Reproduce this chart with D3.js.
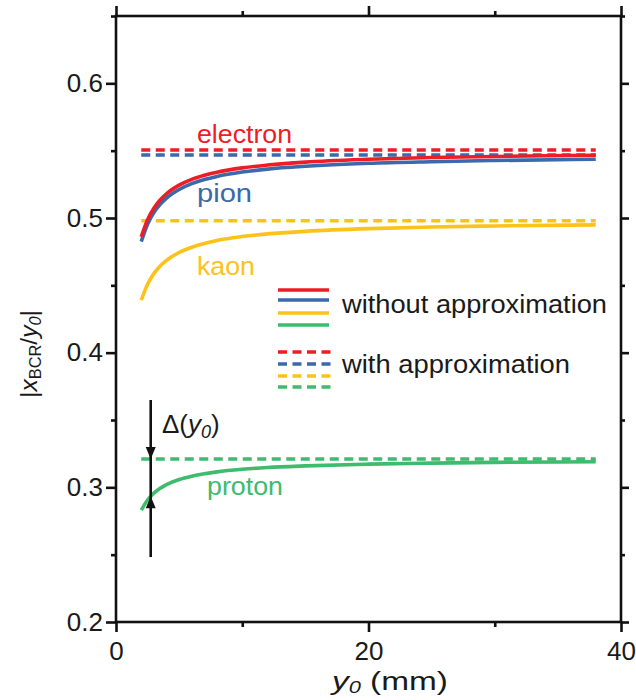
<!DOCTYPE html>
<html><head><meta charset="utf-8">
<script src="https://cdn.jsdelivr.net/npm/d3@7"></script>
<style>
body{margin:0;background:#fff;}
text{font-family:"Liberation Sans",Arial,Helvetica,sans-serif;}
</style></head>
<body>
<svg id="c" width="636" height="700"></svg>
<script>
// ---- data ----
const y0Values = [2, 2.5, 3, 3.5, 4, 5, 6, 7, 8, 10, 12, 15, 20, 25, 30, 38];
const electron = [0.486, 0.4988, 0.5073, 0.5134, 0.518, 0.5244, 0.5287, 0.5317, 0.534, 0.5372, 0.5393, 0.5415, 0.5436, 0.5449, 0.5457, 0.5466];
const pion     = [0.4825, 0.4954, 0.504, 0.5101, 0.5148, 0.5212, 0.5255, 0.5286, 0.5309, 0.5341, 0.5363, 0.5384, 0.5406, 0.5418, 0.5427, 0.5436];
const kaon     = [0.439, 0.4508, 0.4587, 0.4643, 0.4685, 0.4744, 0.4783, 0.4811, 0.4833, 0.4862, 0.4882, 0.4901, 0.4921, 0.4933, 0.4941, 0.4949];
const proton   = [0.283, 0.2906, 0.2957, 0.2993, 0.302, 0.3058, 0.3083, 0.3101, 0.3115, 0.3134, 0.3147, 0.3159, 0.3172, 0.318, 0.3185, 0.319];
const particles = ["electron", "pion", "kaon", "proton"];
const approxValues = [0.5505, 0.5468, 0.498, 0.321];
const approxRange = [2, 38];
const colors = ["#ee1c25", "#3b69ab", "#fbc319", "#3dbc6d"];
const xMajorTicks = [0, 20, 40];
const xMinorTicks = [10, 30];
const yMajorTicks = [0.2, 0.3, 0.4, 0.5, 0.6];
const yMinorTicks = [0.25, 0.35, 0.45, 0.55, 0.65];
const legendLabels = ["without approximation", "with approximation"];
const arrowX = 2.75;

// ---- layout ----
const svg = d3.select("#c");
const L = 116, R = 621, T = 16, B = 622;
const x = d3.scaleLinear().domain([0, 40]).range([L, R]);
const y = d3.scaleLinear().domain([0.2, 0.65]).range([B, T]);
const FS = 26;
const axisW = 2.6;

function styleAxis(g) {
  g.select(".domain").remove();
  g.selectAll("line").attr("stroke", "#111").attr("stroke-width", axisW);
  g.selectAll("text").attr("font-size", FS).attr("fill", "#1a1a1a")
    .attr("font-family", "Liberation Sans, Arial, sans-serif");
}
// left
svg.append("g").attr("transform", `translate(${L},0)`)
  .call(d3.axisLeft(y).tickValues(yMajorTicks).tickSize(10).tickPadding(3).tickFormat(d3.format(".1f"))).call(styleAxis);
svg.append("g").attr("transform", `translate(${L},0)`)
  .call(d3.axisLeft(y).tickValues(yMinorTicks).tickSize(5).tickFormat("")).call(styleAxis);
// right
svg.append("g").attr("transform", `translate(${R},0)`)
  .call(d3.axisRight(y).tickValues(yMajorTicks).tickSize(8).tickFormat("")).call(styleAxis);
svg.append("g").attr("transform", `translate(${R},0)`)
  .call(d3.axisRight(y).tickValues(yMinorTicks).tickSize(4).tickFormat("")).call(styleAxis);
// bottom
svg.append("g").attr("transform", `translate(0,${B})`)
  .call(d3.axisBottom(x).tickValues(xMajorTicks).tickSize(10).tickPadding(10)).call(styleAxis);
svg.append("g").attr("transform", `translate(0,${B})`)
  .call(d3.axisBottom(x).tickValues(xMinorTicks).tickSize(5).tickFormat("")).call(styleAxis);
// top
svg.append("g").attr("transform", `translate(0,${T})`)
  .call(d3.axisTop(x).tickValues(xMajorTicks).tickSize(10).tickFormat("")).call(styleAxis);
svg.append("g").attr("transform", `translate(0,${T})`)
  .call(d3.axisTop(x).tickValues(xMinorTicks).tickSize(5).tickFormat("")).call(styleAxis);
// frame
svg.append("rect").attr("x", L).attr("y", T).attr("width", R - L).attr("height", B - T)
  .attr("fill", "none").attr("stroke", "#111").attr("stroke-width", axisW);

// ---- lines ----
const seriesData = [electron, pion, kaon, proton];
const line = d3.line().x(d => x(d[0])).y(d => y(d[1])).curve(d3.curveMonotoneX);
const LW = 3.6;
const DASH = "9,5.5";
approxValues.forEach((v, i) => {
  svg.append("path")
    .attr("d", line(approxRange.map(xx => [xx, v])))
    .attr("fill", "none").attr("stroke", colors[i]).attr("stroke-width", LW)
    .attr("stroke-dasharray", DASH);
});
[3, 2, 1, 0].forEach(i => {
  svg.append("path")
    .attr("d", line(y0Values.map((xx, j) => [xx, seriesData[i][j]])))
    .attr("fill", "none").attr("stroke", colors[i]).attr("stroke-width", LW)
    .attr("stroke-linecap", "butt");
});

// ---- particle labels ----
const labelPos = [[197, 143], [197, 202], [197, 275], [207, 495]];
const labelLen = [95, 55, 58, 76];
particles.forEach((p, i) => {
  svg.append("text").attr("x", labelPos[i][0]).attr("y", labelPos[i][1])
    .attr("font-size", FS).attr("fill", colors[i])
    .attr("textLength", labelLen[i]).attr("lengthAdjust", "spacingAndGlyphs").text(p);
});

// ---- legend ----
const lgX0 = 278, lgX1 = 329;
const solidYs = [290, 300, 313, 325];
const dashYs = [352, 364, 376, 387];
colors.forEach((c, i) => {
  svg.append("line").attr("x1", lgX0).attr("x2", lgX1).attr("y1", solidYs[i]).attr("y2", solidYs[i])
    .attr("stroke", c).attr("stroke-width", LW);
  svg.append("line").attr("x1", lgX0).attr("x2", lgX1 + 2).attr("y1", dashYs[i]).attr("y2", dashYs[i])
    .attr("stroke", c).attr("stroke-width", LW).attr("stroke-dasharray", "9,5.5");
});
svg.append("text").attr("x", 342).attr("y", 313).attr("font-size", FS).attr("fill", "#1a1a1a")
  .attr("textLength", 265).attr("lengthAdjust", "spacingAndGlyphs").text(legendLabels[0]);
svg.append("text").attr("x", 342).attr("y", 373).attr("font-size", FS).attr("fill", "#1a1a1a")
  .attr("textLength", 228).attr("lengthAdjust", "spacingAndGlyphs").text(legendLabels[1]);

// ---- Delta arrows ----
const ax = x(arrowX);
const protonApprox = approxValues[3];
const protonAtArrow = 0.2934;
svg.append("line").attr("x1", ax).attr("x2", ax).attr("y1", 400).attr("y2", 557)
  .attr("stroke", "#111").attr("stroke-width", 2.6);
const ah = 12, aw = 5;
const yTop = y(protonApprox), yBot = y(protonAtArrow);
svg.append("path").attr("d", `M${ax},${yTop} L${ax - aw},${yTop - ah} L${ax + aw},${yTop - ah} Z`).attr("fill", "#111");
svg.append("path").attr("d", `M${ax},${yBot} L${ax - aw},${yBot + ah} L${ax + aw},${yBot + ah} Z`).attr("fill", "#111");
const dt = svg.append("text").attr("x", 162).attr("y", 433).attr("font-size", FS).attr("fill", "#1a1a1a");
dt.append("tspan").text("Δ(");
dt.append("tspan").attr("font-style", "italic").text("y");
dt.append("tspan").attr("font-style", "italic").attr("font-size", 18).attr("dy", 5).text("0");
dt.append("tspan").attr("dy", -5).text(")");

// ---- axis titles ----
const xt = svg.append("text").attr("x", 332).attr("y", 690)
  .attr("font-size", FS).attr("fill", "#1a1a1a")
  .attr("textLength", 116).attr("lengthAdjust", "spacingAndGlyphs");
xt.append("tspan").attr("font-style", "italic").text("y");
xt.append("tspan").attr("font-style", "italic").attr("font-size", 17).attr("dy", 3).text("0");
xt.append("tspan").attr("dy", -3).text(" (mm)");

const yt = svg.append("text").attr("transform", "translate(37,398) rotate(-90)")
  .attr("font-size", 24).attr("fill", "#1a1a1a")
  .attr("textLength", 88).attr("lengthAdjust", "spacingAndGlyphs");
yt.append("tspan").text("|");
yt.append("tspan").attr("font-style", "italic").text("x");
yt.append("tspan").attr("font-size", 16).attr("dy", 4).text("BCR");
yt.append("tspan").attr("dy", -4).text("/");
yt.append("tspan").attr("font-style", "italic").text("y");
yt.append("tspan").attr("font-style", "italic").attr("font-size", 16).attr("dy", 4).text("0");
yt.append("tspan").attr("dy", -4).text("|");
</script>
</body></html>
